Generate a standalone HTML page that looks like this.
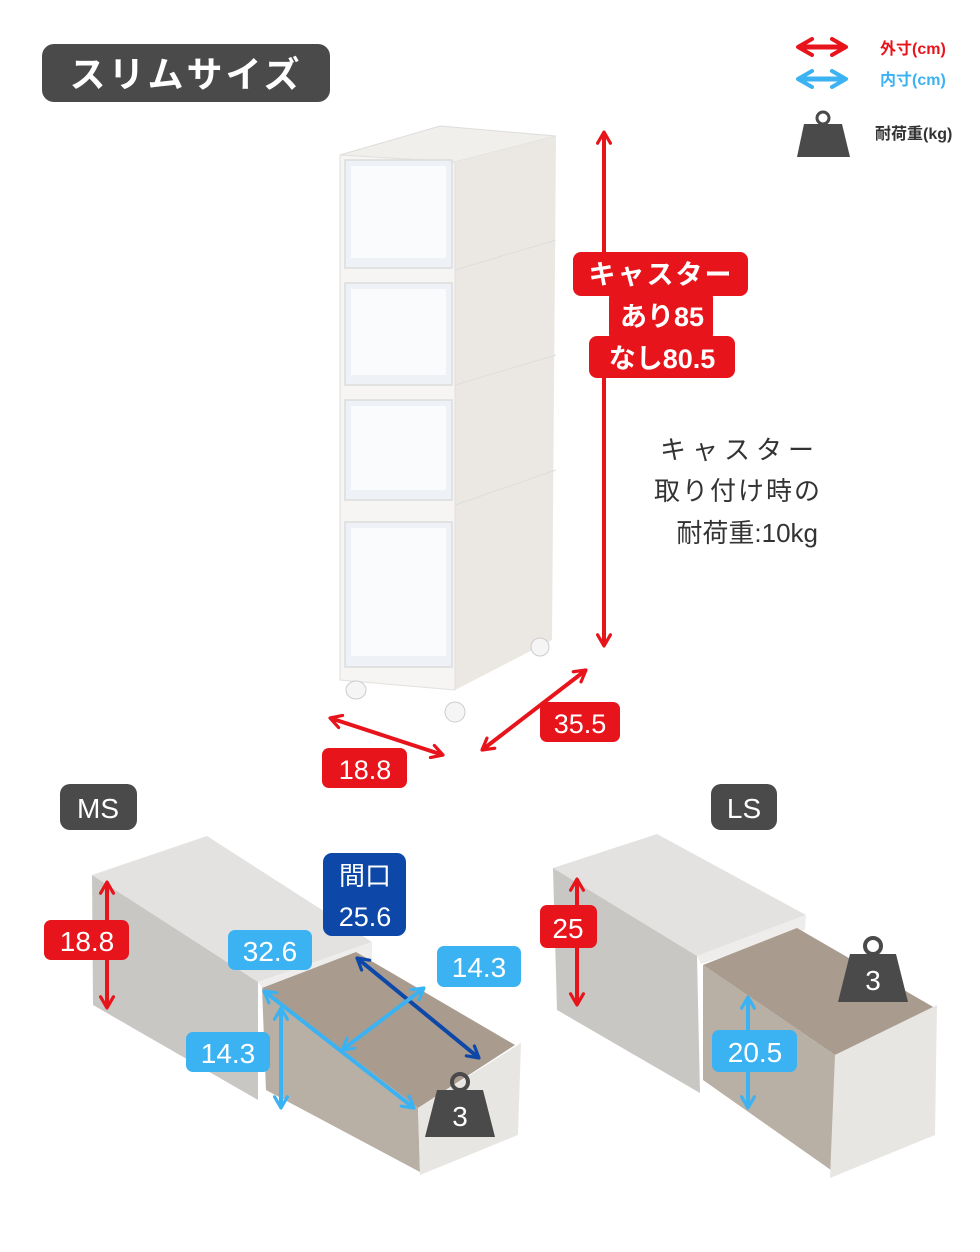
<!DOCTYPE html>
<html><head><meta charset="utf-8"><style>
html,body{margin:0;padding:0;background:#fff}
svg{display:block}
text{font-family:"Liberation Sans","Noto Sans CJK JP",sans-serif}
</style></head><body>
<svg width="980" height="1252" viewBox="0 0 980 1252" xmlns="http://www.w3.org/2000/svg">
<defs>
<marker id="hr" viewBox="0 0 10 10" refX="8" refY="5" markerWidth="4" markerHeight="4" orient="auto-start-reverse" markerUnits="strokeWidth"><path d="M1,1 L8,5 L1,9" fill="none" stroke="#e8141b" stroke-width="2" stroke-linecap="round" stroke-linejoin="round"/></marker>
<marker id="hb" viewBox="0 0 10 10" refX="8" refY="5" markerWidth="4" markerHeight="4" orient="auto-start-reverse" markerUnits="strokeWidth"><path d="M1,1 L8,5 L1,9" fill="none" stroke="#3bb2f2" stroke-width="2" stroke-linecap="round" stroke-linejoin="round"/></marker>
<marker id="hd" viewBox="0 0 10 10" refX="8" refY="5" markerWidth="4" markerHeight="4" orient="auto-start-reverse" markerUnits="strokeWidth"><path d="M1,1 L8,5 L1,9" fill="none" stroke="#0d47a8" stroke-width="2" stroke-linecap="round" stroke-linejoin="round"/></marker>
</defs>

<!-- title -->
<rect x="42" y="44" width="288" height="58" rx="12" fill="#4a4a4a"/>
<text x="186" y="87" font-size="36" font-weight="bold" fill="#fff" text-anchor="middle" letter-spacing="3">スリムサイズ</text>

<!-- legend -->
<line x1="798" y1="47" x2="846" y2="47" stroke="#e8141b" stroke-width="5" marker-start="url(#hr)" marker-end="url(#hr)"/>
<text x="880" y="54" font-size="16" font-weight="bold" fill="#e8141b">外寸(cm)</text>
<line x1="798" y1="79" x2="846" y2="79" stroke="#3bb2f2" stroke-width="5" marker-start="url(#hb)" marker-end="url(#hb)"/>
<text x="880" y="85" font-size="16" font-weight="bold" fill="#3bb2f2">内寸(cm)</text>
<circle cx="823" cy="118" r="6" fill="none" stroke="#4a4a4a" stroke-width="3"/>
<polygon points="804,124 842,124 850,157 797,157" fill="#4a4a4a"/>
<text x="875" y="139" font-size="16" font-weight="bold" fill="#333">耐荷重(kg)</text>

<!-- tower -->
<polygon points="340,155 440,126 556,136 455,162" fill="#f1efeb" stroke="#ddd" />
<polygon points="455,162 556,136 552,640 455,690" fill="#ebe8e3"/>
<line x1="455" y1="270" x2="556" y2="240" stroke="#ddd"/>
<line x1="455" y1="385" x2="556" y2="355" stroke="#ddd"/>
<line x1="455" y1="505" x2="556" y2="470" stroke="#ddd"/>
<polygon points="340,155 455,162 455,690 340,680" fill="#f6f5f3" stroke="#e2e0dc"/>
<g fill="#eef1f6" stroke="#dcdcdc" stroke-width="1.5">
<rect x="345" y="160" width="107" height="108"/>
<rect x="345" y="283" width="107" height="102"/>
<rect x="345" y="400" width="107" height="100"/>
<rect x="345" y="522" width="107" height="145"/>
</g>
<g fill="#fafbfd">
<rect x="351" y="166" width="95" height="92"/>
<rect x="351" y="289" width="95" height="86"/>
<rect x="351" y="406" width="95" height="84"/>
<rect x="351" y="528" width="95" height="128"/>
</g>
<g fill="#f5f5f5" stroke="#ccc">
<ellipse cx="356" cy="690" rx="10" ry="9"/>
<ellipse cx="455" cy="712" rx="10" ry="10"/>
<ellipse cx="540" cy="647" rx="9" ry="9"/>
</g>

<!-- height arrow -->
<line x1="604" y1="132" x2="604" y2="256" stroke="#e8141b" stroke-width="4" marker-start="url(#hr)"/>
<line x1="604" y1="374" x2="604" y2="646" stroke="#e8141b" stroke-width="4" marker-end="url(#hr)"/>
<g fill="#e8141b">
<rect x="573" y="252" width="175" height="44" rx="8"/>
<rect x="609" y="290" width="104" height="52" rx="8"/>
<rect x="589" y="336" width="146" height="42" rx="8"/>
</g>
<g fill="#fff" font-weight="bold" font-size="27" text-anchor="middle">
<text x="661" y="284" letter-spacing="2">キャスター</text>
<text x="662" y="326">あり85</text>
<text x="662" y="368">なし80.5</text>
</g>
<g fill="#333" font-size="26" text-anchor="end">
<text x="820" y="459" letter-spacing="6">キャスター</text>
<text x="822" y="500" letter-spacing="2">取り付け時の</text>
<text x="818" y="542">耐荷重:10kg</text>
</g>

<!-- base arrows -->
<line x1="330" y1="718" x2="443" y2="755" stroke="#e8141b" stroke-width="4" marker-start="url(#hr)" marker-end="url(#hr)"/>
<line x1="482" y1="750" x2="586" y2="670" stroke="#e8141b" stroke-width="4" marker-start="url(#hr)" marker-end="url(#hr)"/>
<rect x="322" y="748" width="85" height="40" rx="7" fill="#e8141b"/>
<text x="365" y="779" font-size="27" fill="#fff" text-anchor="middle">18.8</text>
<rect x="540" y="702" width="80" height="40" rx="7" fill="#e8141b"/>
<text x="580" y="733" font-size="27" fill="#fff" text-anchor="middle">35.5</text>

<!-- badges -->
<rect x="60" y="784" width="77" height="46" rx="10" fill="#4a4a4a"/>
<text x="98" y="818" font-size="28" fill="#fff" text-anchor="middle">MS</text>
<rect x="711" y="784" width="66" height="46" rx="10" fill="#4a4a4a"/>
<text x="744" y="818" font-size="28" fill="#fff" text-anchor="middle">LS</text>

<!-- MS drawer -->
<polygon points="92,875 207,836 372,942 258,982" fill="#e3e2e0"/>
<polygon points="92,875 258,982 258,1100 93,1005" fill="#c9c7c4"/>
<polygon points="258,982 372,942 372,960 265,992" fill="#eeedeb"/>
<polygon points="262,988 356,952 515,1045 418,1108" fill="#a99c8f"/>
<polygon points="262,988 418,1108 420,1172 266,1090" fill="#b8afa5"/>
<polygon points="418,1108 521,1043 518,1135 420,1175" fill="#e8e6e3"/>
<!-- MS dims -->
<line x1="107" y1="882" x2="107" y2="1008" stroke="#e8141b" stroke-width="4" marker-start="url(#hr)" marker-end="url(#hr)"/>
<rect x="44" y="920" width="85" height="40" rx="7" fill="#e8141b"/>
<text x="87" y="951" font-size="28" fill="#fff" text-anchor="middle">18.8</text>
<line x1="357" y1="958" x2="479" y2="1058" stroke="#0d47a8" stroke-width="4" marker-start="url(#hd)" marker-end="url(#hd)"/>
<line x1="264" y1="991" x2="414" y2="1108" stroke="#3bb2f2" stroke-width="4" marker-start="url(#hb)" marker-end="url(#hb)"/>
<line x1="342" y1="1050" x2="424" y2="988" stroke="#3bb2f2" stroke-width="4" marker-start="url(#hb)" marker-end="url(#hb)"/>
<line x1="281" y1="1008" x2="281" y2="1108" stroke="#3bb2f2" stroke-width="4" marker-start="url(#hb)" marker-end="url(#hb)"/>
<rect x="323" y="853" width="83" height="83" rx="9" fill="#0d47a8"/>
<text x="365" y="885" font-size="26" fill="#fff" text-anchor="middle">間口</text>
<text x="365" y="926" font-size="27" fill="#fff" text-anchor="middle">25.6</text>
<rect x="228" y="930" width="84" height="40" rx="7" fill="#3bb2f2"/>
<text x="270" y="961" font-size="28" fill="#fff" text-anchor="middle">32.6</text>
<rect x="437" y="946" width="84" height="41" rx="7" fill="#3bb2f2"/>
<text x="479" y="977" font-size="28" fill="#fff" text-anchor="middle">14.3</text>
<rect x="186" y="1032" width="84" height="40" rx="7" fill="#3bb2f2"/>
<text x="228" y="1063" font-size="28" fill="#fff" text-anchor="middle">14.3</text>
<circle cx="460" cy="1082" r="8" fill="none" stroke="#4a4a4a" stroke-width="4"/>
<polygon points="437,1090 483,1090 495,1137 425,1137" fill="#4a4a4a"/>
<text x="460" y="1126" font-size="28" fill="#fff" text-anchor="middle">3</text>

<!-- LS drawer -->
<polygon points="553,868 657,834 806,915 697,956" fill="#e3e2e0"/>
<polygon points="553,868 697,956 700,1093 557,1010" fill="#c9c7c4"/>
<polygon points="697,956 806,915 805,930 701,964" fill="#eeedeb"/>
<polygon points="703,965 797,928 935,1008 835,1055" fill="#a99c8f"/>
<polygon points="703,965 835,1055 838,1175 703,1080" fill="#b8afa5"/>
<polygon points="835,1055 937,1005 935,1135 830,1178" fill="#e8e6e3"/>
<line x1="577" y1="879" x2="577" y2="1005" stroke="#e8141b" stroke-width="4" marker-start="url(#hr)" marker-end="url(#hr)"/>
<rect x="540" y="905" width="57" height="43" rx="7" fill="#e8141b"/>
<text x="568" y="938" font-size="28" fill="#fff" text-anchor="middle">25</text>
<line x1="748" y1="997" x2="748" y2="1108" stroke="#3bb2f2" stroke-width="4" marker-start="url(#hb)" marker-end="url(#hb)"/>
<rect x="712" y="1030" width="85" height="42" rx="7" fill="#3bb2f2"/>
<text x="755" y="1062" font-size="28" fill="#fff" text-anchor="middle">20.5</text>
<circle cx="873" cy="946" r="8" fill="none" stroke="#4a4a4a" stroke-width="4"/>
<polygon points="850,954 896,954 908,1002 838,1002" fill="#4a4a4a"/>
<text x="873" y="990" font-size="28" fill="#fff" text-anchor="middle">3</text>
</svg>
</body></html>
